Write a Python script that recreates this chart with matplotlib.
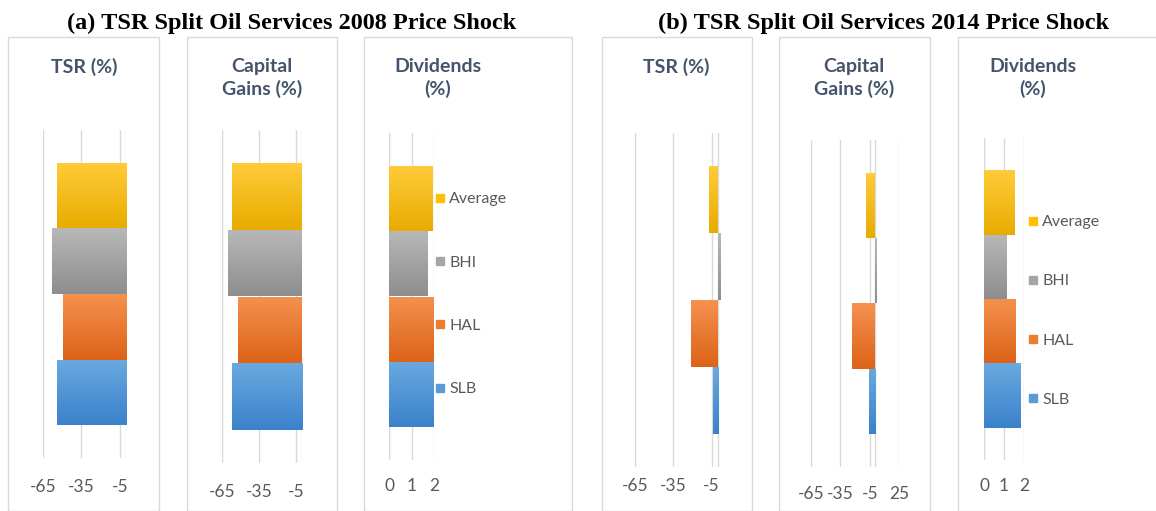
import matplotlib
matplotlib.use("Agg")
import matplotlib.pyplot as plt
import numpy as np
from matplotlib.patches import Rectangle
from matplotlib.lines import Line2D
from matplotlib.colors import LinearSegmentedColormap

plt.rcParams["axes.unicode_minus"] = False

# ---------------- data ----------------
companies = ["Average", "BHI", "HAL", "SLB"]   # top to bottom
tsr_2008 = [-53.8, -57.7, -49.6, -54.3]
cg_2008 = [-56.3, -59.6, -51.5, -56.7]
div_2008 = [1.93, 1.73, 1.99, 1.99]
tsr_2014 = [-7.0, 2.3, -21.0, -4.2]
cg_2014 = [-9.0, 1.7, -23.0, -6.3]
div_2014 = [1.52, 1.12, 1.60, 1.83]
ticks_neg = [-65, -35, -5]
ticks_cg14 = [-65, -35, -5, 25]
ticks_div = [0, 1, 2]
title_a = "(a) TSR Split Oil Services 2008 Price Shock"
title_b = "(b) TSR Split Oil Services 2014 Price Shock"
head_tsr = "TSR (%)"
head_cg = "Capital\nGains (%)"
head_div = "Dividends\n(%)"

# ---------------- style ----------------
W, H = 1156, 511
grad = {
    "Average": ("#FFCB3A", "#E8AC00"),
    "BHI": ("#B8B8B8", "#8E8E8E"),
    "HAL": ("#F4914F", "#DD6318"),
    "SLB": ("#6AA9E0", "#3A82CB"),
}
solid = {"Average": "#FFC000", "BHI": "#A5A5A5", "HAL": "#ED7D31", "SLB": "#5B9BD5"}
grid_c = "#D9D9D9"
tick_c = "#595959"
head_c = "#44546A"

fig = plt.figure(figsize=(W / 100, H / 100), dpi=100)
fig.patch.set_facecolor("white")


def px_axes(x0, x1, ytop, ybot):
    return fig.add_axes([x0 / W, 1 - ybot / H, (x1 - x0) / W, (ybot - ytop) / H])


def draw_panel(x0, x1, ytop, ybot, xlim, ticks, values, pad_px):
    ax = px_axes(x0, x1, ytop, ybot)
    ax.set_xlim(*xlim)
    ax.set_ylim(-1, 4)
    ypos = np.arange(len(companies))[::-1]
    bars = ax.barh(ypos, values, height=1.0, color="none", edgecolor="none", zorder=3)
    for b, name in zip(bars, companies):
        cmap = LinearSegmentedColormap.from_list(name, [grad[name][0], grad[name][1]])
        bb = b.get_bbox()
        img = np.linspace(0, 1, 64).reshape(-1, 1)
        im = ax.imshow(img, cmap=cmap, aspect="auto",
                       extent=[bb.x0, bb.x1, bb.y0, bb.y1], origin="upper", zorder=3)
        im.set_clip_path(b)
    ax.set_xlim(*xlim)
    ax.set_ylim(-1, 4)
    ax.set_xticks(ticks)
    ax.set_yticks([])
    ax.grid(axis="x", color=grid_c, lw=1.0, zorder=0)
    ax.axvline(0, color=grid_c, lw=1.0, zorder=1)
    for s in ax.spines.values():
        s.set_visible(False)
    ax.tick_params(axis="x", length=0, pad=pad_px * 0.72, labelsize=12.5, labelcolor=tick_c)
    for t in ax.get_xticklabels():
        t.set_fontfamily("Lato")
    ax.set_facecolor("none")
    return ax


def box(x0, x1):
    fig.patches.append(Rectangle((x0 / W, 0), (x1 - x0) / W, 1 - 37 / H,
                                 transform=fig.transFigure, fill=False,
                                 edgecolor=grid_c, lw=1.0))


for x0, x1 in [(8, 159), (187, 337), (364, 572), (602, 752), (779, 930), (958, 1165)]:
    box(x0, x1)

axa1 = draw_panel(43, 126.4, 130, 458, (-65, 0), ticks_neg, tsr_2008, 21)
axa2 = draw_panel(221.7, 302, 130, 463, (-65, 0), ticks_neg, cg_2008, 21)
axa3 = draw_panel(389.3, 434.3, 133, 460, (0, 2), ticks_div, div_2008, 18)
axb1 = draw_panel(635, 723.1, 133, 467, (-65, 4), ticks_neg, tsr_2014, 11)
axb2 = draw_panel(811, 899.3, 140, 467, (-65, 25), ticks_cg14, cg_2014, 19)
axb3 = draw_panel(984, 1024, 138, 460, (0, 2), ticks_div, div_2014, 18)

# titles
fig.text(292 / W, 1 - 23 / H, title_a, ha="center", va="center",
         family="Liberation Serif", weight="bold", fontsize=17.5)
fig.text(884 / W, 1 - 23 / H, title_b, ha="center", va="center",
         family="Liberation Serif", weight="bold", fontsize=17.5)

# headings
for x, txt in [(84, head_tsr), (262, head_cg), (438, head_div),
               (676, head_tsr), (854, head_cg), (1033, head_div)]:
    fig.text(x / W, 1 - 58 / H, txt, ha="center", va="top", family="Lato",
             weight="bold", fontsize=14, color=head_c, linespacing=1.3)

# legends
handles = [Line2D([], [], marker="s", ls="none", color=solid[n], markersize=6)
           for n in companies]
for (lx, ly, sp) in [(435, 192, 3.08), (1028, 215, 2.82)]:
    fig.legend(handles, companies, loc="upper left",
               bbox_to_anchor=(lx / W, 1 - ly / H), frameon=False,
               handlelength=0.6, handletextpad=0.3, labelspacing=sp,
               borderpad=0, borderaxespad=0,
               prop={"family": "Lato", "size": 11.5}, labelcolor=tick_c)

fig.savefig("out.png", dpi=100, facecolor="white")
